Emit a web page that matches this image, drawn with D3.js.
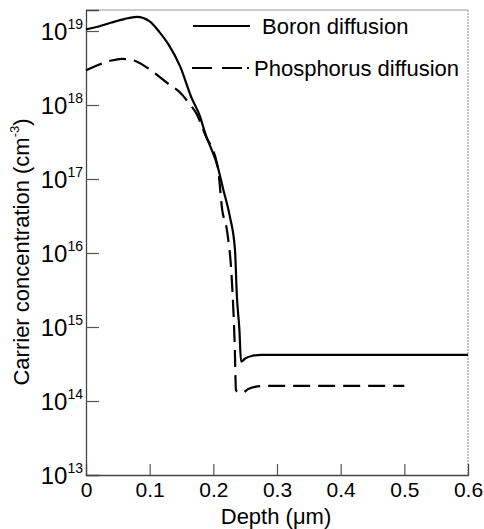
<!DOCTYPE html>
<html><head><meta charset="utf-8">
<script src="https://cdn.jsdelivr.net/npm/d3@7"></script>
<style>body{margin:0;background:#fff}text{font-family:"Liberation Sans",Arial,Helvetica,sans-serif;fill:#000}</style>
</head><body><svg id="c" width="484" height="529"></svg>
<script>
const boronDepth = [0,0.02,0.04,0.06,0.08,0.1,0.116,0.13,0.148,0.165,0.179,0.187,0.207,0.216,0.226,0.234,0.237,0.241,0.2435,0.25,0.26,0.275,0.3,0.6];
const boronConc  = [1.05e19,1.15e19,1.3e19,1.45e19,1.55e19,1.35e19,9.5e18,6.5e18,3.3e18,1.3e18,7e17,4.2e17,1.45e17,7e16,3.1e16,1.1e16,2.6e15,9e14,3.4e14,3.75e14,4.05e14,4.2e14,4.2e14,4.2e14];
const phosDepth = [0,0.02,0.04,0.057,0.075,0.096,0.127,0.152,0.16,0.174,0.187,0.207,0.214,0.2215,0.229,0.2335,0.2356,0.24,0.245,0.255,0.265,0.28,0.3,0.5];
const phosConc  = [2.95e18,3.5e18,4.0e18,4.2e18,4.0e18,3.2e18,2e18,1.35e18,1.1e18,7.5e17,4e17,1.45e17,3.8e16,2e16,4.4e15,6e14,1.4e14,1.3e14,1.28e14,1.45e14,1.55e14,1.6e14,1.6e14,1.6e14];
const xTicks = [0,0.1,0.2,0.3,0.4,0.5,0.6];
const xTickLabels = ["0","0.1","0.2","0.3","0.4","0.5","0.6"];
const yExponents = [13,14,15,16,17,18,19];
const seriesNames = ["Boron diffusion","Phosphorus diffusion"];

const svg = d3.select("#c");
const L=86,R=468,T=10,B=475;
const x = d3.scaleLinear().domain([0,0.6]).range([L,R]);
const y = d3.scaleLog().domain([1e13, Math.pow(10,13+(B-T)/74)]).range([B,T]);

// frame
svg.append("line").attr("x1",L).attr("x2",R).attr("y1",T).attr("y2",T).attr("stroke","#999").attr("stroke-width",1);
svg.append("line").attr("x1",R).attr("x2",R).attr("y1",T).attr("y2",B).attr("stroke","#888").attr("stroke-width",1).attr("stroke-dasharray","2,1");

// x axis
const xa = svg.append("g").attr("transform",`translate(0,${B})`)
  .call(d3.axisBottom(x).tickValues(xTicks).tickSize(-11).tickFormat((d,i)=>xTickLabels[i]).tickPadding(7));
xa.select(".domain").attr("stroke","#444").attr("stroke-width",1.3);
xa.selectAll(".tick line").attr("stroke","#555").attr("stroke-width",1.2).filter((d,i)=>i===0||i===6).remove();
xa.selectAll(".tick text").attr("font-size",21).attr("fill","#000");

// y axis
const ya = svg.append("g").attr("transform",`translate(${L},0)`)
  .call(d3.axisLeft(y).tickValues(yExponents.map(e=>Math.pow(10,e))).tickSize(-13).tickFormat(""));
ya.select(".domain").attr("stroke","#444").attr("stroke-width",1.3);
ya.selectAll(".tick line").attr("stroke","#555").attr("stroke-width",1.2).filter((d,i)=>i===0).remove();
yExponents.forEach(e=>{
  const t = svg.append("text").attr("x",L-3).attr("y",y(Math.pow(10,e))+9).attr("text-anchor","end").attr("font-size",24);
  t.append("tspan").text("10");
  t.append("tspan").text(e).attr("font-size",14).attr("dy",-11);
});

// titles
svg.append("text").attr("x",276).attr("y",524).attr("text-anchor","middle").attr("font-size",22).text("Depth (μm)");
const yt = svg.append("text").attr("transform",`translate(29,252) rotate(-90)`).attr("text-anchor","middle").attr("font-size",22);
yt.append("tspan").text("Carrier concentration (cm");
yt.append("tspan").text("-3").attr("font-size",13).attr("dy",-10);
yt.append("tspan").text(")").attr("dy",10);

// lines
const line = d3.line().x(d=>x(d[0])).y(d=>y(d[1])).curve(d3.curveMonotoneX);
svg.append("path").datum(boronDepth.map((d,i)=>[d,boronConc[i]])).attr("d",line)
  .attr("fill","none").attr("stroke","#000").attr("stroke-width",2.2);
svg.append("path").datum(phosDepth.map((d,i)=>[d,phosConc[i]])).attr("d",line)
  .attr("fill","none").attr("stroke","#000").attr("stroke-width",2.2).attr("stroke-dasharray","17,8");

// legend
svg.append("line").attr("x1",193).attr("x2",250).attr("y1",26).attr("y2",26).attr("stroke","#000").attr("stroke-width",2);
svg.append("text").attr("x",262).attr("y",34).attr("font-size",22).text(seriesNames[0]);
svg.append("line").attr("x1",192).attr("x2",242).attr("y1",68).attr("y2",68).attr("stroke","#000").attr("stroke-width",2).attr("stroke-dasharray","20,10");
svg.append("line").attr("x1",247).attr("x2",249).attr("y1",68).attr("y2",68).attr("stroke","#000").attr("stroke-width",2);
svg.append("text").attr("x",254).attr("y",76).attr("font-size",22).text(seriesNames[1]);
</script></body></html>
